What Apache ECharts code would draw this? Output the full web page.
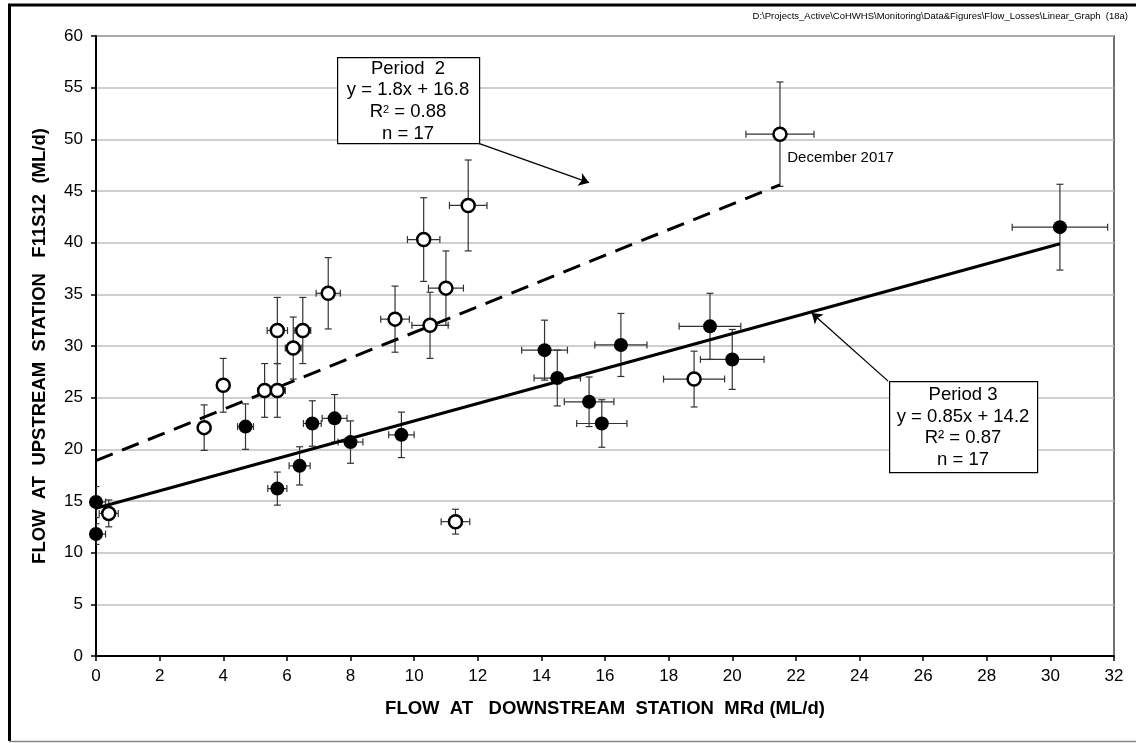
<!DOCTYPE html>
<html>
<head>
<meta charset="utf-8">
<script src="https://cdn.jsdelivr.net/npm/echarts@6/dist/echarts.min.js"></script>
<style>
  html, body { margin: 0; padding: 0; background: #fff; }
  #chart { width: 1136px; height: 743px; }
</style>
</head>
<body>
<div id="chart"></div>
<script>
const FONT = "'Liberation Sans', Arial, sans-serif";

// Period 3 (filled circles)
const p3X = [0, 0, 4.7, 5.7, 6.4, 6.8, 7.5, 8.0, 9.6, 14.1, 14.5, 15.5, 15.9, 16.5, 19.3, 20.0, 30.3];
const p3Y = [14.9, 11.8, 22.2, 16.2, 18.4, 22.5, 23.0, 20.7, 21.4, 29.6, 26.9, 24.6, 22.5, 30.1, 31.9, 28.7, 41.5];
const p3XErr = [0.3, 0.3, 0.25, 0.3, 0.33, 0.28, 0.39, 0.39, 0.4, 0.72, 0.73, 0.78, 0.79, 0.82, 0.97, 1.0, 1.5];
const p3YErr = [1.5, 1.0, 2.2, 1.6, 1.85, 2.2, 2.3, 2.05, 2.2, 2.9, 2.7, 2.4, 2.3, 3.05, 3.2, 2.9, 4.15];

// Period 2 (open circles)
const p2X = [0.4, 3.4, 4.0, 5.3, 5.7, 5.7, 6.2, 6.5, 7.3, 9.4, 10.3, 10.5, 11.0, 11.7, 11.3, 18.8, 21.5];
const p2Y = [13.8, 22.1, 26.2, 25.7, 25.7, 31.5, 29.8, 31.5, 35.1, 32.6, 40.3, 32.0, 35.6, 43.6, 13.0, 26.8, 50.5];
const p2XErr = [0.3, 0.15, 0.2, 0.2, 0.25, 0.32, 0.25, 0.25, 0.38, 0.45, 0.51, 0.57, 0.55, 0.59, 0.45, 0.96, 1.07];
const p2YErr = [1.3, 2.2, 2.6, 2.6, 2.6, 3.2, 3.0, 3.2, 3.45, 3.2, 4.05, 3.2, 3.6, 4.4, 1.2, 2.7, 5.05];

// trend lines as drawn
const p2Trend = [[0, 18.9], [21.5, 45.6]];
const p3Trend = [[0, 14.3], [30.3, 39.9]];

// annotation arrows (data coords)
const p2Arrow = [[12.03, 49.6], [15.5, 45.8]];
const p3Arrow = [[24.9, 26.6], [22.5, 33.2]];

const p2Label = ["Period  2", "y = 1.8x + 16.8", "{r|R}{s|2}{r| = 0.88}", "n = 17"];
const p3Label = ["Period 3", "y = 0.85x + 14.2", "R² = 0.87", "n = 17"];
const decemberIndex = 16;

const chart = echarts.init(document.getElementById("chart"), null, { renderer: "canvas" });

function errorBarItem(params, api) {
  const x = api.value(0);
  const y = api.value(1);
  const dx = api.value(2);
  const dy = api.value(3);
  const top = api.coord([x, y + dy]);
  const bottom = api.coord([x, y - dy]);
  const left = api.coord([x - dx, y]);
  const right = api.coord([x + dx, y]);
  const cap = 3.5;
  const style = { stroke: "#333", lineWidth: 1.2 };
  const seg = (x1, y1, x2, y2) => ({ type: "line", shape: { x1, y1, x2, y2 }, style });
  return {
    type: "group",
    children: [
      seg(top[0], top[1], bottom[0], bottom[1]),
      seg(top[0] - cap, top[1], top[0] + cap, top[1]),
      seg(bottom[0] - cap, bottom[1], bottom[0] + cap, bottom[1]),
      seg(left[0], left[1], right[0], right[1]),
      seg(left[0], left[1] - cap, left[0], left[1] + cap),
      seg(right[0], right[1] - cap, right[0], right[1] + cap),
    ],
  };
}

function arrowLine(pair) {
  return {
    silent: true,
    symbol: ["none", "arrow"],
    symbolSize: 10,
    label: { show: false },
    emphasis: { disabled: true },
    lineStyle: { color: "#000", width: 1.3, type: "solid" },
    data: [[{ coord: pair[0] }, { coord: pair[1] }]],
  };
}

function annotationBox(left, top, width, height, lines) {
  return [
    {
      type: "rect",
      left, top,
      shape: { width, height },
      style: { fill: "#fff", stroke: "#000", lineWidth: 1.2 },
      z: 100,
    },
    {
      type: "text",
      x: left + width / 2,
      y: top + height / 2 + 1,
      z: 101,
      style: {
        text: lines.join("\n"),
        font: "18.5px " + FONT,
        fill: "#000",
        align: "center",
        verticalAlign: "middle",
        lineHeight: 21.7,
        rich: {
          r: { fontSize: 18.5, fontFamily: FONT, lineHeight: 21.7 },
          s: { fontSize: 11, fontFamily: FONT, verticalAlign: "top", padding: [3, 0, 0, 0] },
        },
      },
    },
  ];
}

const option = {
  animation: false,
  backgroundColor: "#fff",
  textStyle: { fontFamily: FONT },
  grid: {
    left: 96, right: 22, top: 36, bottom: 87,
    show: true,
    borderColor: "#404040",
    borderWidth: 1.5,
  },
  xAxis: {
    type: "value",
    min: 0, max: 32, interval: 2,
    name: "FLOW  AT   DOWNSTREAM  STATION  MRd (ML/d)",
    nameLocation: "middle",
    nameGap: 43,
    nameTextStyle: { fontFamily: FONT, fontSize: 18.5, fontWeight: "bold", color: "#000" },
    axisLine: { lineStyle: { color: "#000", width: 2 } },
    axisTick: { length: 5, lineStyle: { color: "#000", width: 1.5 } },
    axisLabel: { color: "#000", fontSize: 17, fontFamily: FONT, margin: 12 },
    splitLine: { show: false },
  },
  yAxis: {
    type: "value",
    min: 0, max: 60, interval: 5,
    name: "FLOW  AT  UPSTREAM  STATION   F11S12  (ML/d)",
    nameLocation: "middle",
    nameGap: 47,
    nameTextStyle: { fontFamily: FONT, fontSize: 18.5, fontWeight: "bold", color: "#000" },
    axisLine: { show: true, lineStyle: { color: "#000", width: 2 } },
    axisTick: { show: true, length: 5, lineStyle: { color: "#000", width: 1.5 } },
    axisLabel: { color: "#000", fontSize: 17, fontFamily: FONT, margin: 13 },
    splitLine: { lineStyle: { color: "#bfbfbf", width: 1.5 } },
  },
  series: [
    {
      type: "custom",
      name: "p3 errors",
      clip: true,
      renderItem: errorBarItem,
      encode: { x: 0, y: 1 },
      data: p3X.map((x, i) => [x, p3Y[i], p3XErr[i], p3YErr[i]]),
      z: 2,
    },
    {
      type: "custom",
      name: "p2 errors",
      clip: true,
      renderItem: errorBarItem,
      encode: { x: 0, y: 1 },
      data: p2X.map((x, i) => [x, p2Y[i], p2XErr[i], p2YErr[i]]),
      z: 2,
    },
    {
      type: "line",
      name: "Period 2 trend",
      data: p2Trend,
      symbol: "none",
      lineStyle: { color: "#000", width: 3, type: [18, 10] },
      markLine: arrowLine(p2Arrow),
      z: 3,
    },
    {
      type: "line",
      name: "Period 3 trend",
      data: p3Trend,
      symbol: "none",
      lineStyle: { color: "#000", width: 3 },
      markLine: arrowLine(p3Arrow),
      z: 3,
    },
    {
      type: "scatter",
      name: "Period 3",
      data: p3X.map((x, i) => [x, p3Y[i]]),
      symbol: "circle",
      symbolSize: 14,
      itemStyle: { color: "#000", opacity: 1 },
      z: 4,
    },
    {
      type: "scatter",
      name: "Period 2",
      data: p2X.map((x, i) => {
        const item = { value: [x, p2Y[i]] };
        if (i === decemberIndex) {
          item.label = {
            show: true,
            formatter: "December 2017",
            position: [15, 31],
            align: "left",
            verticalAlign: "middle",
            color: "#000",
            fontSize: 15,
            fontFamily: FONT,
          };
        }
        return item;
      }),
      symbol: "circle",
      symbolSize: 13,
      itemStyle: { color: "#fff", borderColor: "#000", borderWidth: 2.5, opacity: 1 },
      z: 4,
    },
  ],
  graphic: [
    { type: "line", shape: { x1: 8, y1: 5, x2: 1136, y2: 5 }, style: { stroke: "#000", lineWidth: 3 }, z: 50 },
    { type: "line", shape: { x1: 9.5, y1: 4, x2: 9.5, y2: 741 }, style: { stroke: "#000", lineWidth: 3 }, z: 50 },
    { type: "line", shape: { x1: 9, y1: 741.5, x2: 1136, y2: 741.5 }, style: { stroke: "#888", lineWidth: 1.5 }, z: 50 },
    {
      type: "text",
      right: 8,
      top: 11,
      style: {
        text: "D:\\Projects_Active\\CoHWHS\\Monitoring\\Data&Figures\\Flow_Losses\\Linear_Graph  (18a)",
        font: "9.5px " + FONT,
        fill: "#000",
      },
      z: 50,
    },
    ...annotationBox(337, 57, 142, 86, p2Label),
    ...annotationBox(889, 381, 148, 91, p3Label),
  ],
};

chart.setOption(option);
</script>
</body>
</html>
